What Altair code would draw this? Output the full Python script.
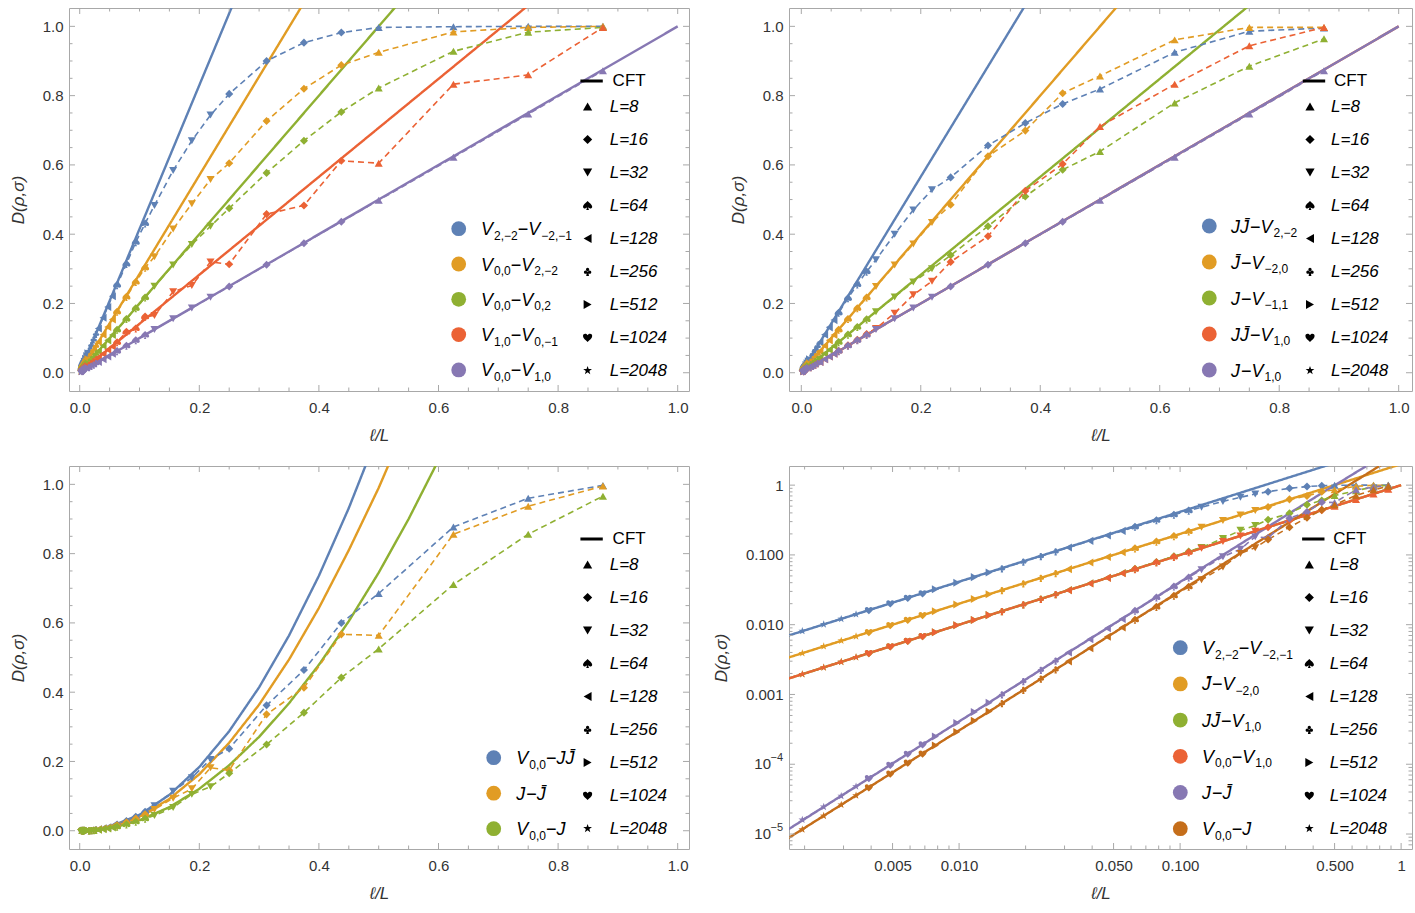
import altair as alt
import pandas as pd

FONT = "Liberation Sans"
FRAME = "#a8a8a8"
TXT = "#333333"
BLUE, ORANGE, GREEN, RED, PURPLE, BROWN = "#5E81B5", "#E19C24", "#8FB032", "#EB6235", "#8778B3", "#C56E1A"
MINUS = "\u2212"
JB = "J\u0304"

# ---------------- data ----------------
X_POS = [0.001953, 0.002441, 0.00293, 0.003418,
         0.003906, 0.004883, 0.005859, 0.006836,
         0.007813, 0.009766, 0.011719, 0.013672,
         0.015625, 0.019531, 0.023438, 0.027344,
         0.03125, 0.039063, 0.046875, 0.054688,
         0.0625, 0.078125, 0.09375, 0.109375,
         0.125, 0.15625, 0.1875, 0.21875,
         0.25, 0.3125, 0.375, 0.4375,
         0.5, 0.625, 0.75, 0.875]
L_SIZES = [2048, 1024, 512, 256, 128, 64, 32, 16, 8]
L_OF_POINT = [f"L={n}" for n in L_SIZES for _ in range(4)]
L_ORDER = ["L=8", "L=16", "L=32", "L=64", "L=128", "L=256", "L=512", "L=1024", "L=2048"]

SPADE = ("M0,-1 C0.4,-0.6 1,-0.2 1,0.25 C1,0.7 0.4,0.8 0.08,0.4 L0.3,1 L-0.3,1 L-0.08,0.4 "
         "C-0.4,0.8 -1,0.7 -1,0.25 C-1,-0.2 -0.4,-0.6 0,-1 Z")
CLUB = ("M-0.35,-0.45 A0.35,0.35 0 1,0 0.35,-0.45 A0.35,0.35 0 1,0 -0.35,-0.45 Z "
        "M-0.8,0.15 A0.35,0.35 0 1,0 -0.1,0.15 A0.35,0.35 0 1,0 -0.8,0.15 Z "
        "M0.1,0.15 A0.35,0.35 0 1,0 0.8,0.15 A0.35,0.35 0 1,0 0.1,0.15 Z "
        "M-0.12,0 L-0.3,1 L0.3,1 L0.12,0 Z")
HEART = "M0,1 C-0.4,0.6 -1,0.2 -1,-0.3 C-1,-0.8 -0.4,-1 0,-0.5 C0.4,-1 1,-0.8 1,-0.3 C1,0.2 0.4,0.6 0,1 Z"
STAR = ("M0,-1 L0.235,-0.324 L0.951,-0.309 L0.38,0.124 L0.588,0.809 L0,0.4 L-0.588,0.809 "
        "L-0.38,0.124 L-0.951,-0.309 L-0.235,-0.324 Z")
SHAPES = ["triangle-up", "diamond", "triangle-down", SPADE, "triangle-left", CLUB,
          "triangle-right", HEART, STAR]

# legend labels: pieces of (text, kind) with kind i=italic, n=normal, s=subscript
LBL_V22_V21 = [("V", "i"), ("2,\u22122", "s"), (MINUS, "n"), ("V", "i"), ("\u22122,\u22121", "s")]
LBL_V00_V22 = [("V", "i"), ("0,0", "s"), (MINUS, "n"), ("V", "i"), ("2,\u22122", "s")]
LBL_V00_V02 = [("V", "i"), ("0,0", "s"), (MINUS, "n"), ("V", "i"), ("0,2", "s")]
LBL_V10_V01 = [("V", "i"), ("1,0", "s"), (MINUS, "n"), ("V", "i"), ("0,\u22121", "s")]
LBL_V00_V10 = [("V", "i"), ("0,0", "s"), (MINUS, "n"), ("V", "i"), ("1,0", "s")]
LBL_JJ_V22 = [("J" + JB, "i"), (MINUS, "n"), ("V", "i"), ("2,\u22122", "s")]
LBL_JB_V20 = [(JB, "i"), (MINUS, "n"), ("V", "i"), ("\u22122,0", "s")]
LBL_J_V11 = [("J", "i"), (MINUS, "n"), ("V", "i"), ("\u22121,1", "s")]
LBL_JJ_V10 = [("J" + JB, "i"), (MINUS, "n"), ("V", "i"), ("1,0", "s")]
LBL_J_V10 = [("J", "i"), (MINUS, "n"), ("V", "i"), ("1,0", "s")]
LBL_V00_JJ = [("V", "i"), ("0,0", "s"), (MINUS, "n"), ("J" + JB, "i")]
LBL_J_JB = [("J", "i"), (MINUS, "n"), (JB, "i")]
LBL_V00_J = [("V", "i"), ("0,0", "s"), (MINUS, "n"), ("J", "i")]

# panel 1
P1_NAMES = ["V22-V-2-1", "V00-V2-2", "V00-V02", "V10-V0-1", "V00-V10"]
P1_LABELS = [LBL_V22_V21, LBL_V00_V22, LBL_V00_V02, LBL_V10_V01, LBL_V00_V10]
P1_BLUE = [0.0081, 0.0101, 0.0121, 0.0141, 0.0161, 0.0201, 0.0241, 0.0281, 0.0321, 0.040, 0.048, 0.056,
           0.064, 0.080, 0.096, 0.112, 0.128, 0.159, 0.190, 0.221, 0.253, 0.314, 0.377, 0.431,
           0.483, 0.584, 0.670, 0.744, 0.805, 0.900, 0.953, 0.982, 0.997, 0.999, 1.0, 1.0]
P1_ORANGE = [0.0056, 0.0070, 0.0083, 0.0097, 0.0111, 0.0139, 0.0167, 0.0195, 0.0222, 0.0278, 0.0333, 0.0389,
             0.0444, 0.0555, 0.0665, 0.0775, 0.0885, 0.110, 0.132, 0.154, 0.176, 0.219, 0.262, 0.303,
             0.335, 0.415, 0.488, 0.558, 0.605, 0.727, 0.820, 0.888, 0.925, 0.984, 0.997, 1.0]
P1_GREEN = [0.0039, 0.0049, 0.0059, 0.0068, 0.0078, 0.0098, 0.0117, 0.0137, 0.0156, 0.0195, 0.0234, 0.0273,
            0.0312, 0.0390, 0.0469, 0.0547, 0.0625, 0.0780, 0.0935, 0.109, 0.124, 0.155, 0.186, 0.217,
            0.250, 0.311, 0.370, 0.423, 0.475, 0.577, 0.670, 0.753, 0.822, 0.928, 0.983, 0.997]
P1_RED = [0.0028, 0.0035, 0.0041, 0.0048, 0.0055, 0.0069, 0.0083, 0.0097, 0.0110, 0.0138, 0.0166, 0.0193,
          0.0221, 0.0276, 0.0330, 0.0385, 0.0445, 0.0545, 0.0665, 0.0755, 0.088, 0.118, 0.128, 0.162,
          0.165, 0.234, 0.252, 0.320, 0.313, 0.458, 0.483, 0.612, 0.605, 0.833, 0.860, 0.997]
P1_PURPLE = [0.00195, 0.00244, 0.00293, 0.00342, 0.0039, 0.00488, 0.00586, 0.00684, 0.0078, 0.0098, 0.0117, 0.0137,
             0.0156, 0.0195, 0.0234, 0.0273, 0.0312, 0.0390, 0.0469, 0.0547, 0.0625, 0.0781, 0.0937, 0.109,
             0.125, 0.156, 0.187, 0.218, 0.249, 0.312, 0.374, 0.436, 0.498, 0.622, 0.747, 0.872]

# panel 2
P2_NAMES = ["JJb-V2-2", "Jb-V-20", "J-V-11", "JJb-V10", "J-V10"]
P2_LABELS = [LBL_JJ_V22, LBL_JB_V20, LBL_J_V11, LBL_JJ_V10, LBL_J_V10]
P2_BLUE = [0.0055, 0.0069, 0.0083, 0.0097, 0.0110, 0.0138, 0.0166, 0.0193, 0.0221, 0.0276, 0.0331, 0.0386,
           0.0440, 0.0550, 0.0660, 0.0770, 0.0880, 0.110, 0.131, 0.152, 0.173, 0.215, 0.255, 0.292,
           0.326, 0.400, 0.470, 0.528, 0.564, 0.656, 0.721, 0.776, 0.819, 0.925, 0.986, 0.995]
P2_ORANGE = [0.0039, 0.0049, 0.0059, 0.0068, 0.0078, 0.0098, 0.0117, 0.0137, 0.0156, 0.0195, 0.0234, 0.0273,
             0.0312, 0.0390, 0.0469, 0.0547, 0.0625, 0.0780, 0.0935, 0.109, 0.124, 0.155, 0.186, 0.217,
             0.249, 0.311, 0.372, 0.434, 0.485, 0.625, 0.699, 0.807, 0.857, 0.961, 0.997, 0.997]
P2_GREEN = [0.0028, 0.0035, 0.0041, 0.0048, 0.0055, 0.0069, 0.0083, 0.0097, 0.0110, 0.0138, 0.0166, 0.0193,
            0.0221, 0.0276, 0.0331, 0.0387, 0.0442, 0.0552, 0.0663, 0.0773, 0.0884, 0.110, 0.132, 0.154,
            0.176, 0.219, 0.262, 0.300, 0.339, 0.423, 0.509, 0.586, 0.639, 0.779, 0.885, 0.964]
P2_RED = [0.00195, 0.00244, 0.00293, 0.00342, 0.0039, 0.00488, 0.00586, 0.00684, 0.0078, 0.0098, 0.0117, 0.0137,
          0.0156, 0.0195, 0.0235, 0.0274, 0.0313, 0.0392, 0.0471, 0.0551, 0.0631, 0.0792, 0.0955, 0.112,
          0.128, 0.172, 0.225, 0.264, 0.320, 0.394, 0.525, 0.6025, 0.711, 0.833, 0.944, 0.997]
P2_PURPLE = [0.00195, 0.00244, 0.00293, 0.00342, 0.0039, 0.00488, 0.00586, 0.00684, 0.0078, 0.0098, 0.0117, 0.0137,
             0.0156, 0.0195, 0.0234, 0.0273, 0.0312, 0.0390, 0.0469, 0.0547, 0.0625, 0.0781, 0.0937, 0.109,
             0.125, 0.156, 0.187, 0.218, 0.249, 0.312, 0.374, 0.436, 0.498, 0.622, 0.747, 0.872]

# panel 3
P3_NAMES = ["V00-JJb", "J-Jb", "V00-J"]
P3_LABELS = [LBL_V00_JJ, LBL_J_JB, LBL_V00_J]
P3_BLUE = [0.000018, 0.000027, 0.000039, 0.000053, 0.00007, 0.00011, 0.00016, 0.00021, 0.00028, 0.00044, 0.00063, 0.00086,
           0.0011, 0.0018, 0.0025, 0.0034, 0.0045, 0.0070, 0.010, 0.014, 0.018, 0.028, 0.040, 0.055,
           0.072, 0.114, 0.153, 0.206, 0.237, 0.362, 0.464, 0.600, 0.685, 0.877, 0.960, 0.997]
P3_ORANGE = [0.000016, 0.0000245, 0.000035, 0.000048, 0.000063, 0.000098, 0.000141, 0.000192, 0.00025, 0.00039, 0.00056, 0.00076,
             0.0010, 0.00155, 0.00225, 0.00305, 0.0040, 0.0062, 0.0089, 0.0121, 0.0158, 0.0246, 0.0352, 0.0475,
             0.0615, 0.094, 0.121, 0.182, 0.175, 0.336, 0.413, 0.567, 0.564, 0.856, 0.937, 0.995]
P3_GREEN = [0.0000116, 0.0000182, 0.0000262, 0.0000356, 0.0000465, 0.000073, 0.000105, 0.000142, 0.000186, 0.00029, 0.00042, 0.00057,
            0.00075, 0.00116, 0.00168, 0.00228, 0.00298, 0.0046, 0.0067, 0.0091, 0.0118, 0.018, 0.026, 0.035,
            0.044, 0.067, 0.105, 0.127, 0.166, 0.249, 0.341, 0.442, 0.525, 0.711, 0.856, 0.966]

# panel 4 (log-log): same quantities as above
P4_NAMES = ["V22-V-2-1", "Jb-V-20", "JJb-V10", "V00-V10", "J-Jb", "V00-J"]
P4_LABELS = [LBL_V22_V21, LBL_JB_V20, LBL_JJ_V10, LBL_V00_V10, LBL_J_JB, LBL_V00_J]

# CFT curves
CFT_LIN_X = [0, 0.0015, 1.0]
CFT_P1 = [[0, 0.0062, 4.15], [0, 0.0043, 2.85], [0, 0.003, 2.0], [0, 0.0021, 1.414], [0, 0.0015, 1.0]]
CFT_P2 = [[0, 0.0042, 2.83], [0, 0.003, 2.0], [0, 0.0021, 1.414], [0, 0.0015, 1.0], [0, 0.0015, 1.0]]
CFT_CURVE_X = [0, 0.0015, 0.003, 0.01, 0.03, 0.05, 0.1, 0.15, 0.2, 0.25, 0.3, 0.35, 0.4, 0.45, 0.5,
               0.55, 0.6, 0.7, 0.8, 0.9, 1.0]
CFT_V00_JJ = [0, 0.00001, 0.000041, 0.00046, 0.0041, 0.0115, 0.046, 0.1035, 0.184, 0.2875, 0.414, 0.5635,
              0.736, 0.9315, 1.15, 1.39, 1.66, 2.25, 2.94, 3.7, 4.6]
CFT_J_JB = [0, 0.0000092, 0.000037, 0.00041, 0.0037, 0.0102, 0.041, 0.092, 0.163, 0.254, 0.364, 0.494,
            0.643, 0.810, 0.990, 1.19, 1.41, 1.90, 2.45, 3.05, 3.7]
CFT_V00_J = [0, 0.0000069, 0.0000275, 0.000305, 0.00274, 0.0076, 0.0304, 0.068, 0.121, 0.189, 0.271, 0.368,
             0.479, 0.605, 0.745, 0.90, 1.07, 1.45, 1.89, 2.4, 2.95]

# axis ticks
LIN_MAJOR = [0, 0.2, 0.4, 0.6, 0.8, 1.0]
LIN_MINOR = [0.05, 0.1, 0.15, 0.25, 0.3, 0.35, 0.45, 0.5, 0.55, 0.65, 0.7, 0.75, 0.85, 0.9, 0.95]
LOGX_MAJOR = [0.005, 0.01, 0.05, 0.1, 0.5, 1.0]
LOGX_MINOR = [0.002, 0.003, 0.004, 0.006, 0.007, 0.008, 0.009, 0.02, 0.03, 0.04, 0.06, 0.07, 0.08, 0.09,
              0.2, 0.3, 0.4, 0.6, 0.7, 0.8, 0.9]
LOGY_MAJOR = [1e-5, 1e-4, 1e-3, 1e-2, 0.1, 1.0]
LOGY_POW = [1e-5, 1e-4]
LOGY_POW_TXT = ["\u22125", "\u22124"]
LOGY_MINOR = [7e-6, 8e-6, 9e-6,
              2e-5, 3e-5, 4e-5, 5e-5, 6e-5, 7e-5, 8e-5, 9e-5,
              2e-4, 3e-4, 4e-4, 5e-4, 6e-4, 7e-4, 8e-4, 9e-4,
              2e-3, 3e-3, 4e-3, 5e-3, 6e-3, 7e-3, 8e-3, 9e-3,
              0.02, 0.03, 0.04, 0.05, 0.06, 0.07, 0.08, 0.09,
              0.2, 0.3, 0.4, 0.5, 0.6, 0.7, 0.8, 0.9]

H = 383
W_L, W_R = 620, 623
X_L = alt.Scale(domain=[-0.0179, 1.0189], nice=False, zero=False)
X_R = alt.Scale(domain=[-0.0206, 1.0223], nice=False, zero=False)
Y_LIN = alt.Scale(domain=[-0.0527, 1.053], nice=False, zero=False)
X_LOG = alt.Scale(type="log", domain=[0.0017, 1.12], nice=False)
Y_LOG = alt.Scale(type="log", domain=[6.1e-6, 1.88], nice=False)

X_AXIS_LIN = alt.Axis(values=LIN_MAJOR, format=".1f", title="\u2113/L")
Y_AXIS_LIN = alt.Axis(values=LIN_MAJOR, format=".1f", title="D(\u03c1,\u03c3)")
X_AXIS_LOG = alt.Axis(values=LOGX_MAJOR, title="\u2113/L",
                      labelExpr="datum.value < 0.007 ? '0.005' : datum.value < 0.02 ? '0.010' : "
                                "datum.value < 0.07 ? '0.050' : datum.value < 0.2 ? '0.100' : "
                                "datum.value < 0.7 ? '0.500' : '1'")
Y_AXIS_LOG = alt.Axis(values=LOGY_MAJOR, title="D(\u03c1,\u03c3)",
                      labelExpr="datum.value < 0.0005 ? '' : "
                                "datum.value < 0.005 ? '0.001' : datum.value < 0.05 ? '0.010' : "
                                "datum.value < 0.5 ? '0.100' : '1'")

CHAR_W = {"V": 0.667, "J": 0.5, MINUS: 0.584, ",": 0.278, "\u0304": 0.0}


def text_w(s, fs):
    return sum(CHAR_W.get(ch, 0.556) for ch in s) * fs


def tick_layers(W, xs, ys, xax, yax, xmaj, xmin, ymaj, ymin):
    out = []
    for vals, ln in ((xmaj, 6), (xmin, 3.5)):
        base = alt.Chart(pd.DataFrame({"x": vals})).mark_rule(color=FRAME, strokeWidth=1)
        out.append(base.encode(x=alt.X("x:Q", scale=xs, axis=xax), y=alt.value(H), y2=alt.value(H - ln)))
        out.append(base.encode(x=alt.X("x:Q", scale=xs, axis=xax), y=alt.value(0), y2=alt.value(ln)))
    for vals, ln in ((ymaj, 6), (ymin, 3.5)):
        base = alt.Chart(pd.DataFrame({"y": vals})).mark_rule(color=FRAME, strokeWidth=1)
        out.append(base.encode(y=alt.Y("y:Q", scale=ys, axis=yax), x=alt.value(0), x2=alt.value(ln)))
        out.append(base.encode(y=alt.Y("y:Q", scale=ys, axis=yax), x=alt.value(W), x2=alt.value(W - ln)))
    return out


def color_legend(labels, colors, cx, tx, y0, dy):
    out = []
    for i, (pieces, c) in enumerate(zip(labels, colors)):
        yy = y0 + i * dy
        out.append(alt.Chart(pd.DataFrame({"k": [i]})).mark_circle(size=219, color=c, opacity=1).encode(
            x=alt.value(cx), y=alt.value(yy)))
        x = tx
        for txt, kind in pieces:
            fs = 12 if kind == "s" else 18
            yb = yy + (11.0 if kind == "s" else 6.5)
            out.append(alt.Chart(pd.DataFrame({"t": [txt]})).mark_text(
                align="left", baseline="alphabetic", fontSize=fs,
                fontStyle="italic" if kind == "i" else "normal", font=FONT, color="black").encode(
                x=alt.value(x), y=alt.value(yb), text="t:N"))
            x += text_w(txt, fs) + (1.0 if kind == "i" else 0.0)
    return out


def log_pow_labels(ys, yax):
    d = pd.DataFrame({"y": LOGY_POW, "t": LOGY_POW_TXT})
    base = alt.Chart(d)
    ten = base.mark_text(align="right", baseline="middle", fontSize=15, font=FONT, color=TXT).encode(
        y=alt.Y("y:Q", scale=ys, axis=yax), x=alt.value(-18), text=alt.value("10"))
    sup = base.mark_text(align="right", baseline="middle", fontSize=11, font=FONT, color=TXT, dy=-6).encode(
        y=alt.Y("y:Q", scale=ys, axis=yax), x=alt.value(-6), text="t:N")
    return [ten, sup]


def panel(names, labels, colors, series, cft_x, cft_ys, W, xs, ys, xaxis, yaxis, leg, log=False):
    pts = pd.DataFrame([{"series": n, "x": x, "y": y, "L": l}
                        for n, vals in zip(names, series)
                        for x, y, l in zip(X_POS, vals, L_OF_POINT)])
    cft = pd.DataFrame([{"series": n, "x": x, "y": y, "lbl": "CFT"}
                        for n, cx, cy in zip(names, cft_x, cft_ys)
                        for x, y in zip(cx, cy)])
    if log:
        cft = cft[(cft["x"] > 0) & (cft["y"] > 0)]
    cscale = alt.Scale(domain=names, range=colors)
    ccx, ctx, cy0, cdy, lx, ly, lofs, fx, fy, fofs = leg
    cft_layer = alt.Chart(cft).mark_line(strokeWidth=2.4, clip=True).encode(
        x=alt.X("x:Q", scale=xs, axis=xaxis),
        y=alt.Y("y:Q", scale=ys, axis=yaxis),
        stroke=alt.Stroke("series:N", scale=cscale, legend=None),
        strokeDash=alt.StrokeDash("lbl:N", scale=alt.Scale(domain=["CFT"], range=[[1, 0]]),
                                  legend=alt.Legend(title=None, orient="none", legendX=fx, legendY=fy,
                                                    symbolType="stroke", symbolStrokeColor="black",
                                                    symbolStrokeWidth=3, symbolSize=500, padding=0,
                                                    labelFontSize=17, labelColor="black",
                                                    labelOffset=fofs)),
    )
    dash_layer = alt.Chart(pts).mark_line(strokeWidth=1.6, strokeDash=[6, 4], clip=True).encode(
        x=alt.X("x:Q", scale=xs, axis=xaxis),
        y=alt.Y("y:Q", scale=ys, axis=yaxis),
        stroke=alt.Stroke("series:N", scale=cscale, legend=None),
    )
    pt_layer = alt.Chart(pts).mark_point(filled=True, size=65, opacity=1, clip=True).encode(
        x=alt.X("x:Q", scale=xs, axis=xaxis),
        y=alt.Y("y:Q", scale=ys, axis=yaxis),
        color=alt.Color("series:N", scale=cscale, legend=None),
        shape=alt.Shape("L:N", scale=alt.Scale(domain=L_ORDER, range=SHAPES),
                        legend=alt.Legend(title=None, orient="none", legendX=lx, legendY=ly,
                                          symbolSize=85, symbolFillColor="black",
                                          symbolStrokeColor="black", symbolStrokeWidth=0,
                                          symbolOpacity=1, padding=0, rowPadding=15,
                                          labelFontSize=17, labelFontStyle="italic",
                                          labelColor="black", labelOffset=lofs)),
    )
    if log:
        tk = tick_layers(W, xs, ys, xaxis, yaxis, LOGX_MAJOR, LOGX_MINOR, LOGY_MAJOR, LOGY_MINOR)
        tk += log_pow_labels(ys, yaxis)
    else:
        tk = tick_layers(W, xs, ys, xaxis, yaxis, LIN_MAJOR, LIN_MINOR, LIN_MAJOR, LIN_MINOR)
    leg_layers = color_legend(labels, colors, ccx, ctx, cy0, cdy)
    return alt.layer(cft_layer, dash_layer, pt_layer, *tk, *leg_layers).properties(width=W, height=H)


RES = dict(x="independent", y="independent", color="independent", shape="independent",
           strokeDash="independent", stroke="independent")

p1 = panel(P1_NAMES, P1_LABELS, [BLUE, ORANGE, GREEN, RED, PURPLE],
           [P1_BLUE, P1_ORANGE, P1_GREEN, P1_RED, P1_PURPLE],
           [CFT_LIN_X] * 5, CFT_P1, W_L, X_L, Y_LIN, X_AXIS_LIN, Y_AXIS_LIN,
           (389.7, 412.0, 220.7, 35.3, 510.1, 90.0, 13.6, 509.6, 60.0, 8.0))
p2 = panel(P2_NAMES, P2_LABELS, [BLUE, ORANGE, GREEN, RED, PURPLE],
           [P2_BLUE, P2_ORANGE, P2_GREEN, P2_RED, P2_PURPLE],
           [CFT_LIN_X] * 5, CFT_P2, W_R, X_R, Y_LIN, X_AXIS_LIN, Y_AXIS_LIN,
           (420.3, 442.0, 218.0, 36.0, 512.5, 90.0, 12.5, 512.0, 60.0, 7.0))
p3 = panel(P3_NAMES, P3_LABELS, [BLUE, ORANGE, GREEN],
           [P3_BLUE, P3_ORANGE, P3_GREEN],
           [CFT_CURVE_X] * 3, [CFT_V00_JJ, CFT_J_JB, CFT_V00_J], W_L, X_L, Y_LIN, X_AXIS_LIN, Y_AXIS_LIN,
           (424.7, 447.3, 291.7, 35.5, 510.1, 90.0, 13.6, 509.6, 60.0, 8.0))
p4 = panel(P4_NAMES, P4_LABELS, [BLUE, ORANGE, GREEN, RED, PURPLE, BROWN],
           [P1_BLUE, P2_ORANGE, P2_RED, P1_PURPLE, P3_ORANGE, P3_GREEN],
           [CFT_LIN_X, CFT_LIN_X, CFT_LIN_X, CFT_LIN_X, CFT_CURVE_X, CFT_CURVE_X],
           [CFT_P1[0], CFT_P2[1], CFT_P2[3], CFT_P1[4], CFT_J_JB, CFT_V00_J],
           W_R, X_LOG, Y_LOG, X_AXIS_LOG, Y_AXIS_LOG,
           (391.3, 413.0, 181.7, 36.2, 511.8, 90.0, 11.9, 511.3, 60.0, 7.0), log=True)

chart = alt.concat(p1, p2, p3, p4, columns=2, spacing={"row": 75, "column": 100},
                   bounds="flush").resolve_scale(**RES).properties(
    padding={"left": 8, "top": 7, "right": 0, "bottom": 0}
).configure(font=FONT).configure_view(stroke=FRAME, strokeWidth=1).configure_axis(
    labelFont=FONT, labelFontSize=15, labelColor=TXT, titleFont=FONT, titleFontSize=17,
    titleFontWeight="normal", titleFontStyle="italic", titleColor=TXT, ticks=False, tickSize=0,
    domain=False, grid=False, labelFlush=False, labelOverlap=False
).configure_axisX(labelPadding=9, titlePadding=12).configure_axisY(labelPadding=6, titlePadding=15
).configure_legend(labelFont=FONT)

chart.save("out.html", embed_options={"renderer": "svg", "actions": False})
